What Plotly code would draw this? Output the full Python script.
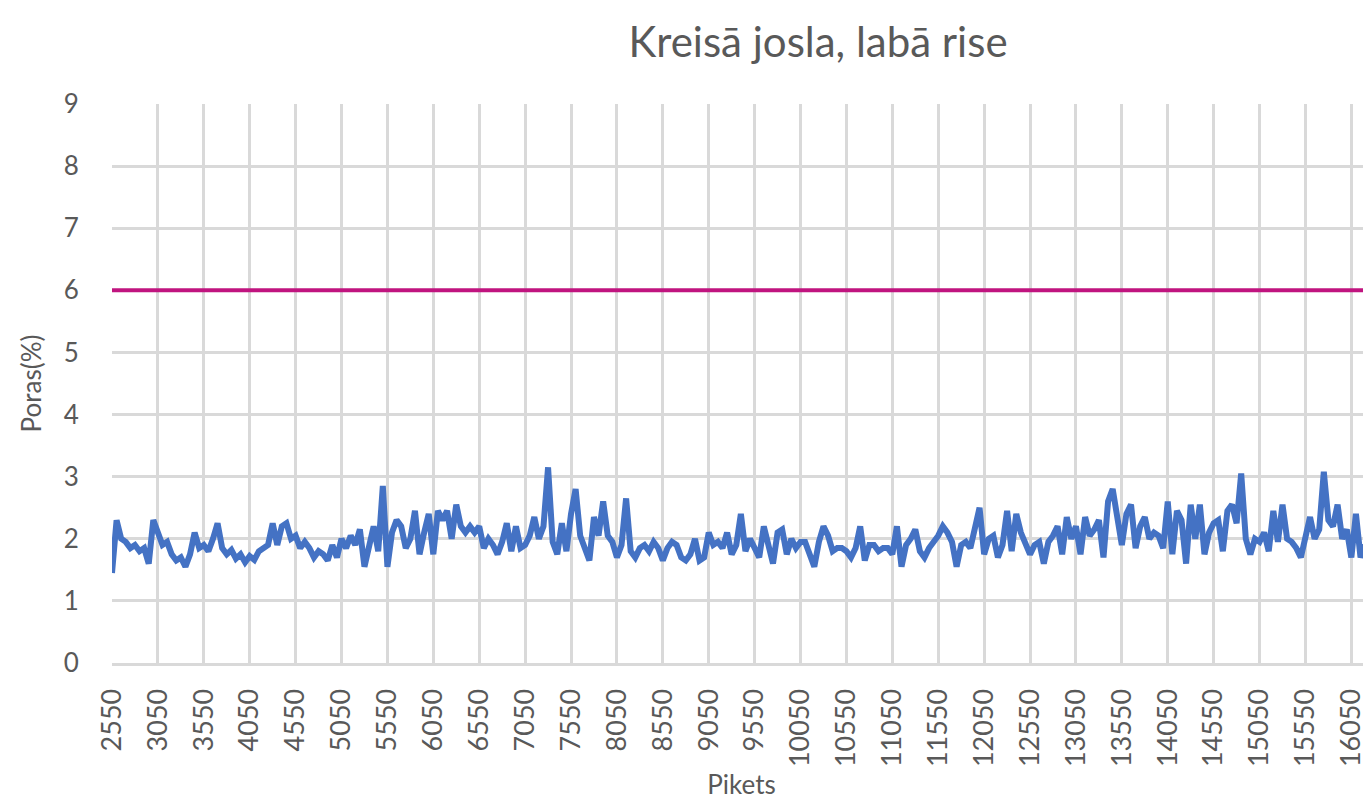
import plotly.graph_objects as go

title_text = "Kreisā josla, labā rise"
x_title = "Pikets"
y_title = "Poras(%)"

poras = [
    # 2550 - 4750
    1.45, 2.3, 2.0, 1.95, 1.85, 1.9, 1.8, 1.85, 1.6, 2.3,
    2.1, 1.9, 1.95, 1.75, 1.65, 1.7, 1.55, 1.75, 2.1, 1.85,
    1.9, 1.8, 2.0, 2.25, 1.85, 1.75, 1.82, 1.68, 1.75, 1.62,
    1.72, 1.66, 1.8, 1.85, 1.9, 2.25, 1.9, 2.2, 2.25, 2.0,
    2.05, 1.85, 1.95, 1.85, 1.7,
    # 4800 - 7000
    1.8, 1.75, 1.65, 1.9, 1.7, 2.0, 1.85, 2.05, 1.9, 2.15,
    1.55, 1.9, 2.2, 1.8, 2.85, 1.55, 2.1, 2.3, 2.2, 1.85,
    2.0, 2.45, 1.75, 2.1, 2.4, 1.75, 2.45, 2.3, 2.45, 2.0,
    2.55, 2.2, 2.1, 2.2, 2.1, 2.2, 1.85, 2.0, 1.9, 1.75,
    1.95, 2.25, 1.8, 2.2, 1.85,
    # 7050 - 9300
    1.9, 2.05, 2.35, 2.0, 2.2, 3.15, 1.95, 1.75, 2.25, 1.8,
    2.4, 2.8, 2.05, 1.85, 1.65, 2.35, 2.05, 2.6, 2.05, 1.95,
    1.7, 1.9, 2.65, 1.8, 1.7, 1.85, 1.9, 1.8, 1.95, 1.85,
    1.65, 1.85, 1.95, 1.9, 1.7, 1.65, 1.75, 2.0, 1.65, 1.7,
    2.1, 1.9, 1.95, 1.85, 2.1, 1.75,
    # 9350 - 11600
    1.9, 2.4, 1.8, 2.0, 1.85, 1.7, 2.2, 1.85, 1.6, 2.1,
    2.15, 1.75, 2.0, 1.85, 1.95, 1.95, 1.75, 1.55, 1.95, 2.2,
    2.05, 1.8, 1.85, 1.85, 1.8, 1.7, 1.85, 2.2, 1.65, 1.9,
    1.9, 1.8, 1.85, 1.85, 1.75, 2.2, 1.55, 1.9, 2.0, 2.15,
    1.8, 1.7, 1.85, 1.95, 2.05, 2.2,
    # 11650 - 13900
    2.1, 1.95, 1.55, 1.9, 1.95, 1.85, 2.2, 2.5, 1.75, 2.0,
    2.05, 1.7, 1.9, 2.45, 1.8, 2.4, 2.1, 1.95, 1.75, 1.9,
    1.95, 1.6, 1.95, 2.05, 2.2, 1.75, 2.35, 2.0, 2.2, 1.75,
    2.35, 2.05, 2.15, 2.3, 1.7, 2.6, 2.8, 2.35, 1.9, 2.4,
    2.55, 1.85, 2.2, 2.35, 2.0, 2.1,
    # 13950 - 16250
    2.05, 1.85, 2.6, 1.75, 2.45, 2.3, 1.6, 2.55, 2.0, 2.55,
    1.75, 2.1, 2.25, 2.3, 1.8, 2.45, 2.55, 2.25, 3.05, 2.0,
    1.75, 2.0, 1.95, 2.1, 1.8, 2.45, 1.95, 2.55, 2.0, 1.95,
    1.85, 1.7, 2.05, 2.35, 2.0, 2.15, 3.08, 2.3, 2.2, 2.55,
    2.0, 2.15, 1.7, 2.4, 1.7, 1.9, 1.75,
]
piket = [2550 + 50 * i for i in range(len(poras))]

limit_value = 6
x_tick_vals = list(range(2550, 16051, 500))
x_tick_text = [str(v) for v in x_tick_vals]
y_tick_vals = list(range(0, 10))

text_color = "#595959"
grid_color = "#d9d9d9"
font_family = "Lato, 'Open Sans', sans-serif"

fig = go.Figure()
fig.add_trace(go.Scatter(
    x=piket, y=poras, mode="lines",
    line=dict(color="#4472C4", width=6),
    showlegend=False,
))
fig.add_hline(y=limit_value, line=dict(color="#C0147F", width=4), layer="above")

fig.update_layout(
    width=1363, height=794,
    paper_bgcolor="white", plot_bgcolor="white",
    margin=dict(l=104, r=0, t=96, b=139, autoexpand=False),
    title=dict(text=title_text, x=810 / 1363, xanchor="center",
               y=1 - 34 / 794, yanchor="middle",
               font=dict(family=font_family, size=42, color=text_color)),
    font=dict(family=font_family, color=text_color),
)
fig.update_xaxes(
    range=[2550, 16264],
    tickmode="array", tickvals=x_tick_vals, ticktext=x_tick_text,
    tickangle=-90,
    tickfont=dict(size=27, color=text_color),
    ticks="outside", ticklen=12, tickcolor="rgba(0,0,0,0)",
    showgrid=True, gridcolor=grid_color, gridwidth=3,
    showline=True, linecolor=grid_color, linewidth=3,
    zeroline=False, automargin=False,
    title=dict(text=x_title, font=dict(size=26, color=text_color), standoff=10),
)
fig.update_yaxes(
    range=[0, 9],
    tickmode="array", tickvals=y_tick_vals,
    tickfont=dict(size=26, color=text_color),
    ticks="outside", ticklen=27, tickcolor="rgba(0,0,0,0)",
    showgrid=True, gridcolor=grid_color, gridwidth=3,
    showline=False, zeroline=False, automargin=False,
    title=dict(text=y_title, font=dict(size=26, color=text_color), standoff=14),
)

fig.write_html("out.html")
